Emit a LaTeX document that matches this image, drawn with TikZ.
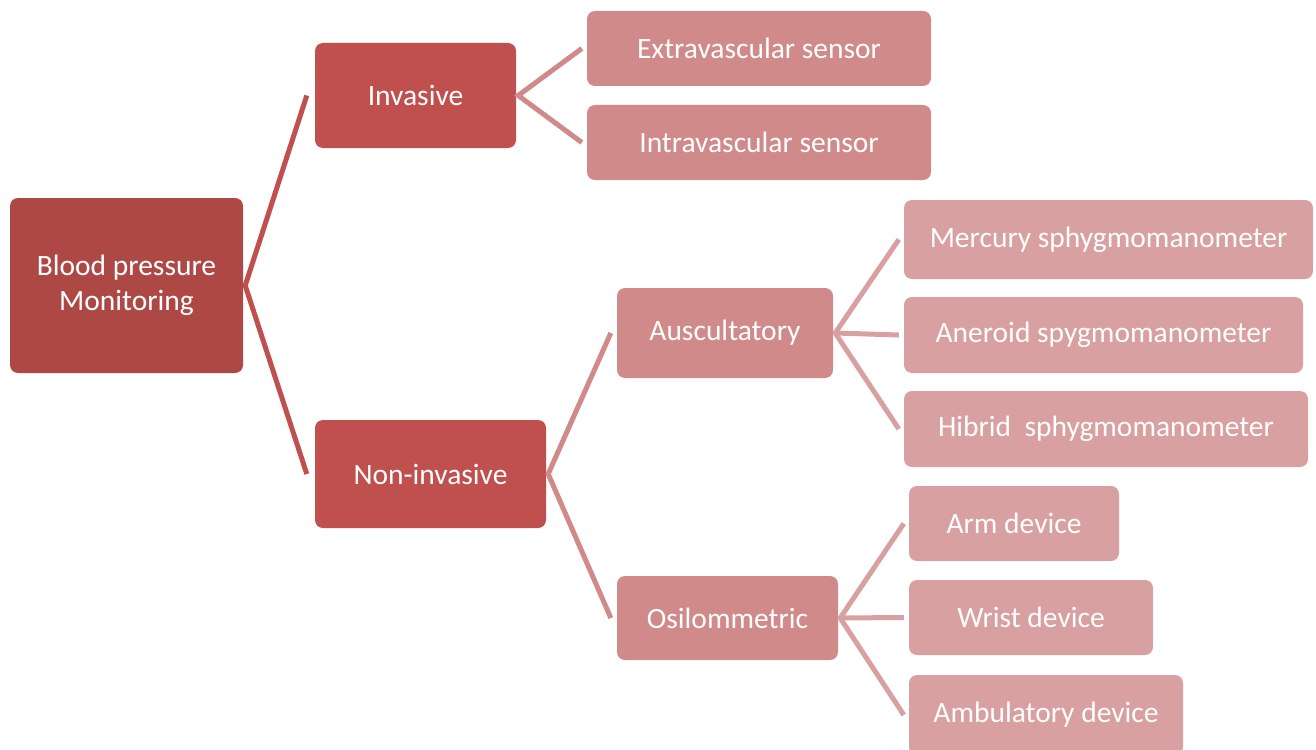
\documentclass[tikz,border=0pt]{standalone}
\usepackage{fontspec}
\setmainfont{Carlito}
\usepackage{tikz}

\definecolor{rootred}{RGB}{173,72,69}
\definecolor{midred}{RGB}{192,80,77}
\definecolor{lightred}{RGB}{208,138,137}
\definecolor{palered}{RGB}{216,160,160}

\begin{document}
\begin{tikzpicture}[x=1pt, y=-1pt,
    box/.style={rounded corners=8pt, text=white, align=center, inner sep=0pt,
        font=\fontsize{29.5}{35}\selectfont},
    link/.style={line width=5pt}]
    \useasboundingbox (0,0) rectangle (1316,749);
    % root and first level
    \node[box, fill=rootred, minimum width=233pt, minimum height=175pt] (bp) at (126.5,285.5) {Blood pressure\\Monitoring};
    \node[box, fill=midred, minimum width=201pt, minimum height=105pt] (inv) at (415.5,95.5) {Invasive};
    \node[box, fill=midred, minimum width=231pt, minimum height=108pt] (noninv) at (430.5,474) {Non-invasive};
    % second level
    \node[box, fill=lightred, minimum width=344pt, minimum height=75pt] (extra) at (759,48.5) {Extravascular sensor};
    \node[box, fill=lightred, minimum width=344pt, minimum height=75pt] (intra) at (759,142.5) {Intravascular sensor};
    \node[box, fill=lightred, minimum width=216pt, minimum height=90pt] (ausc) at (725,333) {Auscultatory};
    \node[box, fill=lightred, minimum width=221pt, minimum height=84pt] (osil) at (727.5,618) {Osilommetric};
    % third level
    \node[box, fill=palered, minimum width=409pt, minimum height=79pt] (merc) at (1108.5,239.5) {Mercury sphygmomanometer};
    \node[box, fill=palered, minimum width=399pt, minimum height=76pt] (aner) at (1103.5,335) {Aneroid spygmomanometer};
    \node[box, fill=palered, minimum width=404pt, minimum height=76pt] (hib) at (1106,429) {Hibrid\ \ sphygmomanometer};
    \node[box, fill=palered, minimum width=210pt, minimum height=75pt] (arm) at (1014,523.5) {Arm device};
    \node[box, fill=palered, minimum width=244pt, minimum height=75pt] (wrist) at (1031,617.5) {Wrist device};
    \node[box, fill=palered, minimum width=274pt, minimum height=80pt] (amb) at (1046,715) {Ambulatory device};

    % connectors
    \draw[link, midred] ([xshift=-8pt]inv.west) -- ([xshift=2pt]bp.east) -- ([xshift=-8pt]noninv.west);
    \draw[link, lightred] ([xshift=-5pt]extra.west) -- ([xshift=2pt]inv.east) -- ([xshift=-5pt]intra.west);
    \draw[link, lightred] ([xshift=-6pt]ausc.west) -- ([xshift=2pt]noninv.east) -- ([xshift=-6pt]osil.west);
    \draw[link, palered] ([xshift=-5pt]merc.west) -- ([xshift=2pt]ausc.east) -- ([xshift=-5pt]hib.west);
    \draw[link, palered] ([xshift=2pt]ausc.east) -- ([xshift=-5pt]aner.west);
    \draw[link, palered] ([xshift=-5pt]arm.west) -- ([xshift=2pt]osil.east) -- ([xshift=-5pt]amb.west);
    \draw[link, palered] ([xshift=2pt]osil.east) -- ([xshift=-5pt]wrist.west);
\end{tikzpicture}
\end{document}
